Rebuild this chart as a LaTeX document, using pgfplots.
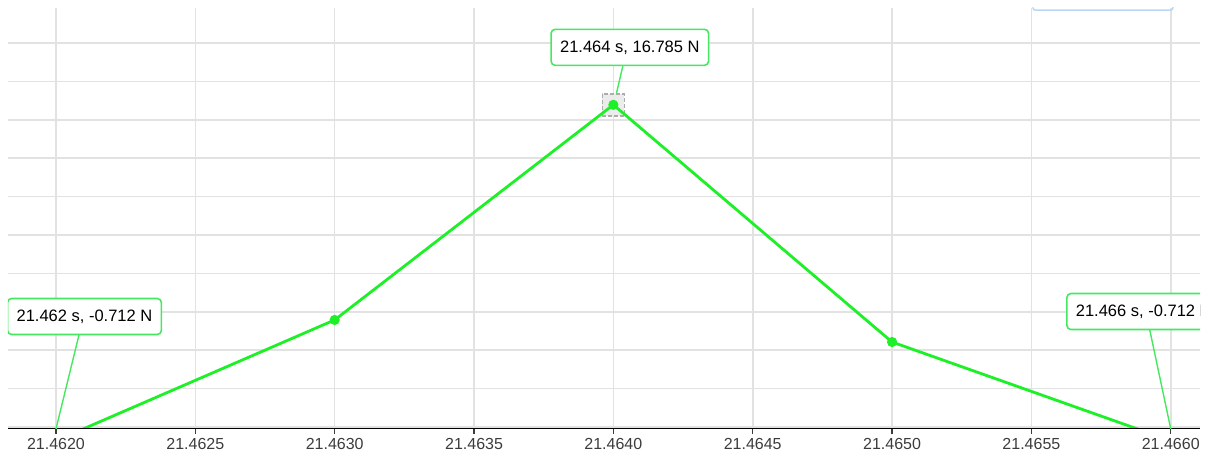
\documentclass[border=0pt]{standalone}
\usepackage{fontspec}
\setmainfont{Liberation Sans}
\usepackage{pgfplots}
\pgfplotsset{compat=1.18}

\definecolor{trace}{RGB}{30,240,40}
\definecolor{callout}{RGB}{70,232,95}
\definecolor{gridc}{RGB}{226,226,226}
\definecolor{ticktext}{RGB}{60,60,60}
\definecolor{legendedge}{RGB}{185,215,245}

\begin{document}
\begin{tikzpicture}[x=1pt,y=1pt]
\begin{axis}[
  at={(8pt,34pt)}, anchor=south west,
  scale only axis, width=1192pt, height=421pt,
  xmin=21.4618278, xmax=21.4661051,
  ymin=-0.1, ymax=21.827,
  xtick={21.462,21.4625,21.463,21.4635,21.464,21.4645,21.465,21.4655,21.466},
  xticklabels={21.4620,21.4625,21.4630,21.4635,21.4640,21.4645,21.4650,21.4655,21.4660},
  scaled x ticks=false,
  ytick={0,2,4,6,8,10,12,14,16,18,20},
  yticklabels={},
  major y tick style={draw=none},
  grid=major,
  major grid style={gridc, line width=1.6pt},
  axis line style={draw=none},
  tick align=outside,
  major x tick style={ticktext, line width=1.2pt},
  major tick length=5pt,
  xtick pos=bottom,
  xticklabel style={font=\fontsize{16pt}{18pt}\selectfont, text=ticktext, yshift=-1pt},
  /pgf/number format/assume math mode=true,
  clip=true,
]
% selection box around the peak sample
\node[draw=gray!65, dashed, dash pattern=on 4pt off 2pt, line width=1.5pt, fill=gray!15, minimum size=22pt, inner sep=0pt]
  at (axis cs:21.464,16.785) {};

% force trace
\addplot[trace, line width=2.8pt, mark=*, mark size=3.6pt, mark options={fill=trace, draw=trace}]
  coordinates {
    (21.462,-0.712)
    (21.463,5.58)
    (21.464,16.785)
    (21.465,4.43)
    (21.466,-0.712)
  };

% baseline
\draw[black, line width=2.4pt] (rel axis cs:0,0) -- (rel axis cs:1,0);

% legend frame peeking in at the top
\draw[legendedge, line width=1.4pt, rounded corners=2pt]
  (axis cs:21.4655056,21.72) rectangle (axis cs:21.4660079,24);

% value callouts
\tikzset{callbox/.style={draw=callout, line width=1.6pt, fill=white, rounded corners=4pt,
  inner xsep=9pt, minimum height=36pt, font=\fontsize{16.5pt}{18pt}\selectfont}}
\draw[callout, line width=1.4pt] (axis cs:21.462,-0.1) -- ++(23pt,94pt);
\node[callbox] at (axis cs:21.462,-0.1) [xshift=28.5pt, yshift=112.5pt] {21.462 s, -0.712 N};

\draw[callout, line width=1.4pt] (axis cs:21.464,16.785) ++(3pt,11pt) -- ++(7pt,30pt);
\node[callbox] at (axis cs:21.464,16.785) [xshift=16.5pt, yshift=57.5pt] {21.464 s, 16.785 N};

\draw[callout, line width=1.4pt] (axis cs:21.466,-0.1) -- ++(-21pt,99pt);
\node[callbox] at (axis cs:21.466,-0.1) [xshift=-27pt, yshift=117.5pt] {21.466 s, -0.712 N};
\end{axis}
\pgfresetboundingbox
\path[use as bounding box] (0,0) rectangle (1207pt,463pt);
\end{tikzpicture}
\end{document}
